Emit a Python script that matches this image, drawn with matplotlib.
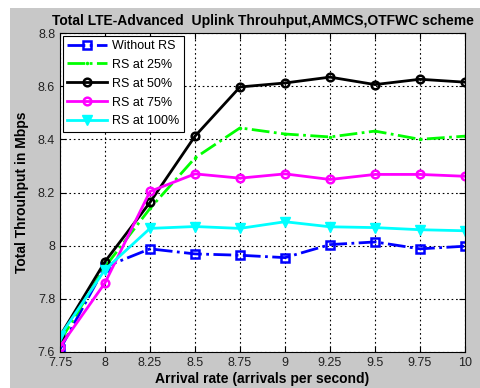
import matplotlib
matplotlib.use("Agg")
import matplotlib.pyplot as plt
from matplotlib.patches import Rectangle

plt.rcParams['font.family'] = ['Liberation Sans', 'DejaVu Sans']

x = [7.75, 8, 8.25, 8.5, 8.75, 9, 9.25, 9.5, 9.75, 10]
without_rs = [7.61, 7.92, 7.988, 7.969, 7.964, 7.955, 8.004, 8.014, 7.988, 7.998]
rs25 = [7.64, 7.92, 8.14, 8.33, 8.443, 8.42, 8.409, 8.431, 8.40, 8.412]
rs50 = [7.66, 7.94, 8.163, 8.412, 8.597, 8.612, 8.634, 8.606, 8.626, 8.615]
rs75 = [7.62, 7.86, 8.204, 8.27, 8.254, 8.27, 8.249, 8.268, 8.268, 8.261]
rs100 = [7.66, 7.91, 8.065, 8.072, 8.065, 8.09, 8.071, 8.068, 8.06, 8.056]
labels = ['Without RS', 'RS at 25%', 'RS at 50%', 'RS at 75%', 'RS at 100%']
xticks = [7.75, 8, 8.25, 8.5, 8.75, 9, 9.25, 9.5, 9.75, 10]
xticklabels = ['7.75', '8', '8.25', '8.5', '8.75', '9', '9.25', '9.5', '9.75', '10']
yticks = [7.6, 7.8, 8, 8.2, 8.4, 8.6, 8.8]
yticklabels = ['7.6', '7.8', '8', '8.2', '8.4', '8.6', '8.8']

fig = plt.figure(figsize=(4.81, 3.88), dpi=100)
fig.patch.set_facecolor('white')
fig.patches.append(Rectangle((10/481, 0), 1, (388-8)/388, transform=fig.transFigure,
                             facecolor='#c8c8c8', edgecolor='none', zorder=-10))
ax = fig.add_axes([60/481, (388-352)/388, (465-60)/481, (352-33)/388])
ax.set_facecolor('white')

lw = 2
ms = 5.5
ax.plot(x, without_rs, color='#0000ff', linestyle='-.', marker='s', markersize=ms,
        markerfacecolor='none', markeredgewidth=1.8, linewidth=lw, label=labels[0])
ax.plot(x, rs25, color='#00ff00', linestyle='-.', marker='.', markersize=3,
        linewidth=lw, label=labels[1])
ax.plot(x, rs50, color='black', linestyle='-', marker='o', markersize=ms,
        markerfacecolor='none', markeredgewidth=1.8, linewidth=lw, label=labels[2])
ax.plot(x, rs75, color='#ff00ff', linestyle='-', marker='o', markersize=ms,
        markerfacecolor='none', markeredgewidth=1.8, linewidth=lw, label=labels[3])
ax.plot(x, rs100, color='#00ffff', linestyle='-', marker='v', markersize=ms+1.5,
        markerfacecolor='#00ffff', linewidth=lw, label=labels[4])

ax.set_xlim(7.75, 10)
ax.set_ylim(7.6, 8.8)
ax.set_xticks(xticks)
ax.set_xticklabels(xticklabels)
ax.set_yticks(yticks)
ax.set_yticklabels(yticklabels)
ax.tick_params(direction='in', top=True, right=True, labelsize=9, colors='black',
               labelcolor='#222222', length=4)
ax.grid(True, color='black', linestyle=(0, (1.5, 2.5)), linewidth=0.8)
for s in ax.spines.values():
    s.set_color('black')
    s.set_linewidth(0.8)

ax.set_title('Total LTE-Advanced  Uplink Throuhput,AMMCS,OTFWC scheme',
             fontsize=10, fontweight='bold', pad=6)
ax.set_xlabel('Arrival rate (arrivals per second)', fontsize=10, fontweight='bold', labelpad=2)
ax.set_ylabel('Total Throuhput in Mbps', fontsize=10, fontweight='bold', labelpad=6)

leg = ax.legend(loc='upper left', fontsize=9, frameon=True, fancybox=False,
                edgecolor='black', framealpha=1, borderaxespad=0.2,
                handlelength=3.2, labelspacing=0.55, borderpad=0.35, handletextpad=0.4)
leg.get_frame().set_linewidth(0.8)

fig.savefig('out.png', dpi=100)
